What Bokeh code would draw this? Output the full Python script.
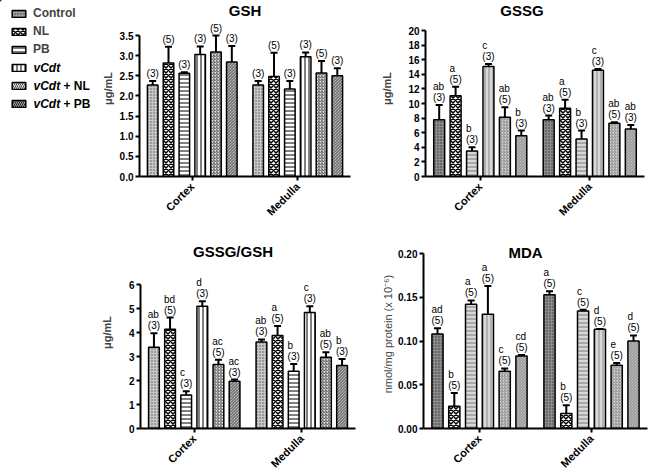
import math
from bokeh.plotting import figure
from bokeh.models import (ColumnDataSource, FactorRange, Range1d, FixedTicker, Whisker, TeeHead,
                          LabelSet, Label, Legend, LegendItem, NumeralTickFormatter)
from bokeh.transform import dodge
from bokeh.layouts import column, row
from bokeh.embed import file_html
from bokeh.resources import INLINE
from bokeh.core.properties import value

FONT = "Liberation Sans"

tissues = ["Cortex", "Medulla"]
groups = ["Control", "NL", "PB", "vCdt", "vCdt + NL", "vCdt + PB"]

# GSH (ug/mL)
gsh_cortex = [2.27, 2.82, 2.56, 3.03, 3.09, 2.84]
gsh_cortex_se = [0.10, 0.40, 0.03, 0.20, 0.41, 0.40]
gsh_medulla = [2.27, 2.48, 2.17, 2.97, 2.57, 2.50]
gsh_medulla_se = [0.10, 0.59, 0.20, 0.11, 0.30, 0.19]
gsh_n = ["(3)", "(5)", "(3)", "(3)", "(5)", "(3)"]

# GSSG (ug/mL)
gssg_cortex = [7.76, 11.06, 3.50, 15.06, 8.10, 5.58]
gssg_cortex_se = [2.04, 1.24, 0.50, 0.34, 1.40, 0.72]
gssg_medulla = [7.76, 9.34, 5.13, 14.56, 7.30, 6.49]
gssg_medulla_se = [0.59, 1.16, 1.17, 0.17, 0.14, 0.58]
gssg_cortex_letters = ["ab", "a", "b", "c", "ab", "b"]
gssg_medulla_letters = ["ab", "a", "b", "c", "ab", "ab"]
gssg_n = ["(3)", "(5)", "(3)", "(3)", "(5)", "(3)"]

# GSSG/GSH
ratio_cortex = [3.39, 4.14, 1.40, 5.09, 2.67, 1.97]
ratio_cortex_se = [0.58, 0.48, 0.15, 0.21, 0.19, 0.07]
ratio_medulla = [3.60, 3.88, 2.39, 4.83, 2.97, 2.62]
ratio_medulla_se = [0.11, 0.39, 0.30, 0.26, 0.21, 0.28]
ratio_cortex_letters = ["ab", "bd", "c", "d", "ac", "ac"]
ratio_medulla_letters = ["ab", "a", "b", "c", "ab", "b"]
ratio_n = ["(3)", "(5)", "(3)", "(3)", "(5)", "(3)"]

# MDA (nmol/mg protein x 10^-6)
mda_cortex = [0.108, 0.0255, 0.142, 0.1306, 0.0655, 0.083]
mda_cortex_se = [0.0065, 0.0152, 0.0043, 0.0324, 0.0031, 0.0011]
mda_medulla = [0.153, 0.0171, 0.1344, 0.1135, 0.0723, 0.1001]
mda_medulla_se = [0.0039, 0.0095, 0.0012, 0.0003, 0.0027, 0.0062]
mda_cortex_letters = ["ad", "b", "a", "a", "c", "cd"]
mda_medulla_letters = ["a", "b", "c", "d", "e", "d"]
mda_n = ["(5)", "(5)", "(5)", "(5)", "(5)", "(5)"]

OFFSETS = [-0.375, -0.225, -0.075, 0.075, 0.225, 0.375]
BAR_W = 0.1

HATCH = ["dot", "diagonal_cross", "horizontal_line", "vertical_line",
         "right_diagonal_line", "left_diagonal_line"]
HSCALE = [3, 5, 4, 4, 3, 3]
HWEIGHT = [1, 1.5, 1, 1, 1, 1]

LIGHT_FILLS = ["#c8c8c8", "white", "white", "white", "#e6e6e6", "#e6e6e6"]
LIGHT_HATCH = ["#555555", "black", "black", "black", "#555555", "#555555"]
DARK_FILLS = ["#8c8c8c", "white", "#d8d8d8", "#d8d8d8", "#d8d8d8", "#d8d8d8"]
DARK_HATCH = ["#333333", "black", "#777777", "#888888", "#888888", "#888888"]
LEGEND_FILLS = ["#a0a0a0", "white", "white", "white", "#d8d8d8", "#a8a8a8"]
LEGEND_HATCH = ["#333333", "black", "black", "black", "#555555", "#222222"]
LEGEND_SCALE = [3, 5, 4, 4, 4, 4]


def style_fig(p):
    p.xgrid.visible = False
    p.ygrid.visible = False


def make_panel(cortex, cortex_se, medulla, medulla_se, cl, ml, ns, ytick_max, ticks, fmt, ylabel,
               ylabel_bold, fills, hcolors, title, tx_off, ty_off,
               mbl, fw, mbr, mbt, fh, mbb, top_gap, lab_standoff=8):
    # frame extends above the top tick by top_gap px so annotations stay inside it
    y_end = ytick_max * fh / (fh - top_gap)
    p = figure(x_range=FactorRange(*tissues, range_padding=0), y_range=Range1d(0, y_end),
               frame_width=fw, frame_height=fh, min_border_left=mbl, min_border_right=mbr,
               min_border_top=mbt, min_border_bottom=mbb, output_backend="svg",
               toolbar_location=None, outline_line_color=None, background_fill_color="white")
    style_fig(p)
    for ax in (p.xaxis[0], p.yaxis[0]):
        ax.axis_line_width = 2
        ax.axis_line_color = "black"
        ax.major_tick_line_width = 2
        ax.major_tick_out = 4
        ax.major_tick_in = 0
        ax.minor_tick_line_color = None
        ax.major_label_text_font = FONT
        ax.major_label_text_font_style = "bold"
        ax.major_label_text_font_size = "10px"
        ax.major_label_text_color = "black"
        ax.major_label_standoff = 2
    p.xaxis.major_label_orientation = math.pi / 4
    p.xaxis.major_label_text_font_size = "11px"
    p.xaxis.major_label_standoff = 4
    p.yaxis.bounds = (0, ytick_max)
    p.yaxis.ticker = FixedTicker(ticks=ticks)
    p.yaxis.formatter = NumeralTickFormatter(format=fmt)
    p.yaxis.axis_label = ylabel
    p.yaxis.axis_label_text_font = FONT
    p.yaxis.axis_label_text_font_style = "bold" if ylabel_bold else "normal"
    p.yaxis.axis_label_text_font_size = "11px"
    p.yaxis.axis_label_standoff = lab_standoff
    for i, g in enumerate(groups):
        vals = [cortex[i], medulla[i]]
        ups = [cortex[i] + cortex_se[i], medulla[i] + medulla_se[i]]
        if cl is None:
            labs = [ns[i], ns[i]]
        else:
            labs = [cl[i] + "\n" + ns[i], ml[i] + "\n" + ns[i]]
        src = ColumnDataSource(dict(tissue=tissues, val=vals, upper=ups, label=labs))
        xs = dodge("tissue", OFFSETS[i], range=p.x_range)
        p.vbar(x=xs, top="val", bottom=0, width=BAR_W, source=src,
               fill_color=fills[i], line_color="black", line_width=1.5,
               hatch_pattern=HATCH[i], hatch_color=hcolors[i],
               hatch_scale=HSCALE[i], hatch_weight=HWEIGHT[i])
        w = Whisker(source=src, base=dodge("tissue", OFFSETS[i], range=p.x_range),
                    lower="val", upper="upper", dimension="height",
                    line_color="black", line_width=2,
                    upper_head=TeeHead(size=7, line_width=2, line_color="black"),
                    lower_head=None)
        p.add_layout(w)
        ls = LabelSet(x=dodge("tissue", OFFSETS[i], range=p.x_range), y="upper", text="label",
                      source=src, text_align="center", text_baseline="bottom", y_offset=2,
                      text_font=value(FONT), text_font_size="10px", text_line_height=1.0,
                      text_color="black")
        p.add_layout(ls)
    p.add_layout(Label(x=1.0, y=ytick_max, text=title, text_align="center", text_baseline="middle",
                       x_offset=tx_off, y_offset=ty_off, text_font=FONT,
                       text_font_style="bold", text_font_size="15px", text_color="black"))
    return p


# page layout (origin at 0,0): top row frames y 0..176, bottom row frames y 236..428
TOP_FH, TOP_MBB = 176, 60
BOT_FH, BOT_MBB = 192, 46
LEG_W = 98

# legend figure (no axes); x/y ranges equal to its pixel size so legend texts can be set in px
pl = figure(x_range=Range1d(0, LEG_W), y_range=Range1d(TOP_FH, 0), frame_width=LEG_W,
            frame_height=TOP_FH, min_border_left=0, min_border_right=0, min_border_top=0,
            min_border_bottom=TOP_MBB, output_backend="svg", toolbar_location=None,
            outline_line_color=None, x_axis_location=None, y_axis_location=None)
style_fig(pl)
leg_items = []
for i, g in enumerate(groups):
    # swatch renderers lie far outside the ranges: only their legend glyphs are seen
    src = ColumnDataSource(dict(x=[-5000], top=[-6000], bottom=[-5000]))
    r = pl.vbar(x="x", top="top", bottom="bottom", width=1, source=src,
                fill_color=LEGEND_FILLS[i], line_color="black", line_width=1.5,
                hatch_pattern=HATCH[i], hatch_color=LEGEND_HATCH[i],
                hatch_scale=LEGEND_SCALE[i], hatch_weight=HWEIGHT[i])
    plain = g if not g.startswith("vCdt") else ""
    leg_items.append(LegendItem(label=plain, renderers=[r]))
legend = Legend(items=leg_items, location=(10, 66), orientation="vertical",
                label_text_font=FONT, label_text_font_style="bold", label_text_font_size="12px",
                glyph_width=17, glyph_height=9, label_height=14, spacing=4, label_standoff=6,
                padding=0, margin=0, border_line_color=None, background_fill_alpha=0)
pl.add_layout(legend)

# mixed-style legend labels: italic "vCdt" followed by plain bold suffix
LEG_TEXT_X = 33
LEG_ROW0, LEG_ROW_STEP = 13, 18
VCDT_W = 26.5
for i, g in enumerate(groups):
    if g.startswith("vCdt"):
        yrow = LEG_ROW0 + LEG_ROW_STEP * i
        pl.add_layout(Label(x=LEG_TEXT_X, y=yrow, text="vCdt", text_align="left",
                            text_baseline="middle", text_font=FONT, text_font_style="bold italic",
                            text_font_size="12px", text_color="black"))
        suffix = g[len("vCdt"):].strip()
        if suffix:
            pl.add_layout(Label(x=LEG_TEXT_X + VCDT_W + 3.5, y=yrow, text=suffix, text_align="left",
                                text_baseline="middle", text_font=FONT, text_font_style="bold",
                                text_font_size="12px", text_color="black"))

p1 = make_panel(gsh_cortex, gsh_cortex_se, gsh_medulla, gsh_medulla_se, None, None, gsh_n,
                3.5, [0, 0.5, 1, 1.5, 2, 2.5, 3, 3.5], "0.0", "μg/mL", True,
                LIGHT_FILLS, LIGHT_HATCH, "GSH", 0, 25,
                39, 211, 20, 0, TOP_FH, TOP_MBB, 35, lab_standoff=3)

p2 = make_panel(gssg_cortex, gssg_cortex_se, gssg_medulla, gssg_medulla_se,
                gssg_cortex_letters, gssg_medulla_letters, gssg_n,
                20, list(range(0, 21, 2)), "0", "μg/mL", True,
                DARK_FILLS, DARK_HATCH, "GSSG", -13, 20,
                55, 219, 8, 0, TOP_FH, TOP_MBB, 30, lab_standoff=12)

p3 = make_panel(ratio_cortex, ratio_cortex_se, ratio_medulla, ratio_medulla_se,
                ratio_cortex_letters, ratio_medulla_letters, ratio_n,
                6, [0, 1, 2, 3, 4, 5, 6], "0", "μg/mL", True,
                LIGHT_FILLS, LIGHT_HATCH, "GSSG/GSH", -15, 33,
                140, 215, 13, 0, BOT_FH, BOT_MBB, 48, lab_standoff=13)

p4 = make_panel(mda_cortex, mda_cortex_se, mda_medulla, mda_medulla_se,
                mda_cortex_letters, mda_medulla_letters, mda_n,
                0.2, [0, 0.05, 0.10, 0.15, 0.20], "0.00", "nmol/mg protein  (x 10⁻⁶)", False,
                DARK_FILLS, DARK_HATCH, "MDA", -10, 1,
                55, 224, 3, 0, BOT_FH, BOT_MBB, 17, lab_standoff=1)

layout = column(row(pl, p1, p2), row(p3, p4))
open("out.html", "w").write(file_html(layout, INLINE))
